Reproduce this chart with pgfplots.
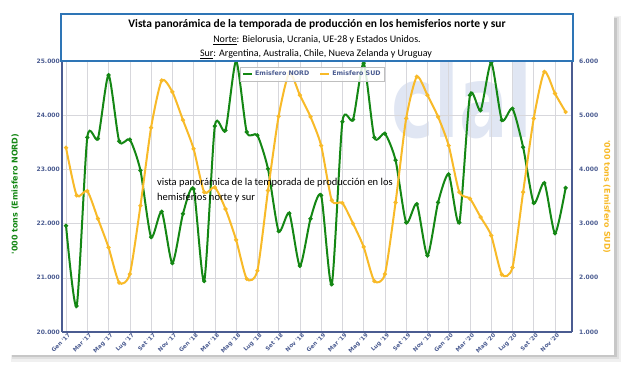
\documentclass[border=0pt]{standalone}
\usepackage{pgfplots}
\pgfplotsset{compat=1.18}
\usepackage{pgfplotstable}
\usepackage{fontspec}
\setmainfont{Carlito}
\newfontfamily\tickfont{DejaVu Sans}
\definecolor{nord}{RGB}{20,135,20}
\definecolor{sud}{RGB}{248,186,40}
\definecolor{slate}{RGB}{75,92,145}
\definecolor{boxblue}{RGB}{46,117,182}
\definecolor{gridc}{RGB}{215,215,220}
\definecolor{wm}{RGB}{224,230,243}
\pgfplotstableread{
m v
0 21960
1 20480
2 23590
3 23570
4 24740
5 23520
6 23550
7 22980
8 21750
9 22220
10 21270
11 22180
12 22640
13 20940
14 23800
15 23720
16 25000
17 23690
18 23630
19 23010
20 21860
21 22190
22 21220
23 22090
24 22520
25 20880
26 23880
27 23920
28 24960
29 23590
30 23660
31 23170
32 22020
33 22360
34 21410
35 22390
36 22910
37 22020
38 24370
39 24090
40 24970
41 23910
42 24120
43 23410
44 22380
45 22750
46 21820
47 22660
}\nordtab
\pgfplotstableread{
m v
0 4400
1 3520
2 3600
3 3090
4 2560
5 1910
6 2070
7 3330
8 4770
9 5640
10 5430
11 4910
12 4380
13 3580
14 3670
15 3270
16 2700
17 1980
18 2130
19 3610
20 4980
21 5780
22 5370
23 4970
24 4440
25 3430
26 3380
27 3000
28 2570
29 1940
30 2070
31 3390
32 4940
33 5710
34 5370
35 4970
36 4440
37 3580
38 3460
39 3120
40 2780
41 2060
42 2190
43 3580
44 4940
45 5800
46 5400
47 5060
}\sudtab
\begin{document}
\begin{tikzpicture}[x=1pt,y=1pt]
\useasboundingbox (0,0) rectangle (640,384);
\fill[white] (0,0) rectangle (640,384);
% card shadow
\fill[black!6] (11,22) rectangle (621,368);
\fill[black!12] (12,25) rectangle (619,367);
\fill[black!22] (12,27) rectangle (617,366);
\fill[white] (9,29) rectangle (614,369);
% watermark
\node[text=wm, font=\tickfont\bfseries\fontsize{100}{100}\selectfont, xscale=0.72, inner sep=0pt, anchor=center] at (462,284) {clal};
\pgfplotsset{
  common/.style={
    scale only axis, width=510pt, height=271pt,
    at={(62pt,52pt)}, anchor=south west,
    xmin=-0.38, xmax=47.6,
    scaled y ticks=false,
    /pgf/number format/assume math mode=true,
    /pgf/number format/1000 sep={.},
    /pgf/number format/fixed,
    tick style={draw=none},
    ticklabel style={font=\tickfont\bfseries\fontsize{6}{7}\selectfont, text=slate},
  }
}
\begin{axis}[common,
  ymin=20000, ymax=25000, ytick={20000,21000,...,25000},
  axis line style={draw=slate, line width=1.3pt},
  axis y line*=left, axis x line*=bottom,
  xtick={0,2,...,46},
  xticklabels={Gen '17,Mar '17,Mag '17,Lug '17,Set '17,Nov '17,Gen '18,Mar '18,Mag '18,Lug '18,Set '18,Nov '18,Gen '19,Mar '19,Mag '19,Lug '19,Set '19,Nov '19,Gen '20,Mar '20,Mag '20,Lug '20,Set '20,Nov '20},
  xticklabel style={rotate=45, anchor=north east, inner sep=1.5pt, xshift=2.5pt, font=\tickfont\bfseries\fontsize{5.6}{6}\selectfont},
  yticklabel style={inner sep=2pt},
  grid=major, major grid style={draw=gridc, line width=0.5pt},
  clip=false,
]
\addplot[nord, line width=2pt, smooth, tension=0.4, mark=*, mark size=0.9pt] table[x=m,y=v]{\nordtab};
\end{axis}
\begin{axis}[common,
  ymin=1000, ymax=6000, ytick={1000,2000,...,6000},
  axis y line*=right, axis x line=none,
  axis line style={draw=slate, line width=1.3pt},
  yticklabel style={inner sep=3pt, xshift=4pt},
  legend style={at={(0.349,0.978)}, anchor=north west, legend columns=2,
    draw=black!25, fill=white, fill opacity=0.85, text opacity=1,
    font=\tickfont\bfseries\fontsize{6.3}{7}\selectfont, text=slate,
    inner sep=2pt, /tikz/every even column/.append style={column sep=8pt}},
  legend image code/.code={\draw[#1, line width=2pt] (0pt,0pt) -- (9pt,0pt);},
]
\addlegendimage{draw=nord}
\addlegendentry{Emisfero NORD}
\addplot[sud, line width=2pt, smooth, tension=0.4, mark=*, mark size=0.9pt] table[x=m,y=v]{\sudtab};
\addlegendentry{Emisfero SUD}
\end{axis}
% axis titles
\node[rotate=90, text=nord, font=\tickfont\bfseries\fontsize{8}{9}\selectfont] at (15,190) {'000 tons (Emisfero NORD)};
\node[rotate=-90, text=sud, font=\tickfont\bfseries\fontsize{8}{9}\selectfont] at (607,187) {'000 tons (Emisfero SUD)};
% title box
\draw[boxblue, line width=1.2pt, fill=white] (61,323) rectangle (573,370);
\node[font=\bfseries\fontsize{11.5}{13}\selectfont] at (317,360) {Vista panorámica de la temporada de producción en los hemisferios norte y sur};
\node[font=\fontsize{10}{12}\selectfont] at (317,344) {\underline{Norte}: Bielorusia, Ucrania, UE-28 y Estados Unidos.};
\node[font=\fontsize{10}{12}\selectfont] at (316,330) {\underline{Sur}: Argentina, Australia, Chile, Nueva Zelanda y Uruguay};
% overlay text
\node[anchor=north west, align=left, font=\fontsize{10.5}{15}\selectfont, inner sep=0pt] at (157,206) {vista panorámica de la temporada de producción en los\\hemisferios norte y sur};
\end{tikzpicture}
\end{document}
